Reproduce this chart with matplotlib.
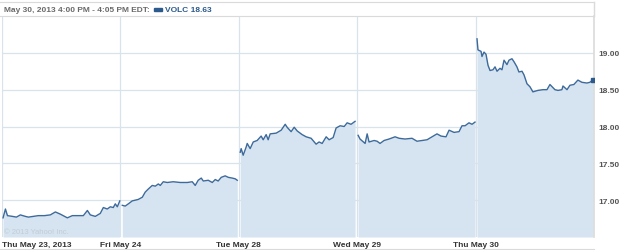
import matplotlib.pyplot as plt
from matplotlib.patches import Rectangle

# x position in trading days from the start of Thu May 23 (0..5), price in USD
thu23_t = [0.009, 0.029, 0.046, 0.088, 0.122, 0.155, 0.197, 0.223, 0.265, 0.307, 0.358, 0.408,
           0.451, 0.493, 0.552, 0.594, 0.645, 0.687, 0.721, 0.746, 0.788, 0.830, 0.856, 0.889,
           0.915, 0.940, 0.957, 0.974, 0.995]
thu23_p = [16.76, 16.88, 16.79, 16.78, 16.77, 16.80, 16.78, 16.77, 16.78, 16.79, 16.79, 16.80,
           16.84, 16.81, 16.76, 16.79, 16.79, 16.79, 16.86, 16.80, 16.78, 16.82, 16.90, 16.88,
           16.91, 16.90, 16.95, 16.91, 16.99]

fri24_t = [1.016, 1.041, 1.067, 1.100, 1.151, 1.185, 1.210, 1.235, 1.269, 1.295, 1.320, 1.337,
           1.362, 1.396, 1.446, 1.505, 1.565, 1.607, 1.632, 1.657, 1.683, 1.700, 1.742, 1.776,
           1.801, 1.826, 1.852, 1.885, 1.911, 1.944, 1.970, 1.987]
fri24_p = [16.93, 16.92, 16.95, 16.99, 17.01, 17.04, 17.11, 17.15, 17.20, 17.19, 17.22, 17.20,
           17.25, 17.24, 17.25, 17.24, 17.24, 17.25, 17.20, 17.27, 17.30, 17.26, 17.27, 17.24,
           17.28, 17.26, 17.31, 17.33, 17.31, 17.30, 17.29, 17.27]

tue28_t = [2.012, 2.020, 2.037, 2.062, 2.071, 2.096, 2.122, 2.155, 2.189, 2.206, 2.231, 2.248,
           2.265, 2.316, 2.358, 2.392, 2.408, 2.442, 2.468, 2.493, 2.535, 2.569, 2.611, 2.653,
           2.678, 2.704, 2.738, 2.763, 2.797, 2.822, 2.856, 2.890, 2.915, 2.948, 2.982]
tue28_p = [17.65, 17.70, 17.61, 17.72, 17.77, 17.70, 17.79, 17.81, 17.87, 17.82, 17.89, 17.82,
           17.90, 17.91, 17.95, 18.03, 17.99, 17.93, 17.99, 17.94, 17.89, 17.86, 17.84, 17.76,
           17.79, 17.77, 17.86, 17.82, 17.85, 17.98, 18.01, 18.00, 18.05, 18.03, 18.07]

wed29_t = [3.008, 3.024, 3.067, 3.084, 3.100, 3.143, 3.168, 3.193, 3.227, 3.269, 3.320, 3.354,
           3.404, 3.463, 3.505, 3.548, 3.590, 3.632, 3.674, 3.708, 3.750, 3.776, 3.818, 3.860,
           3.885, 3.911, 3.944, 3.970, 3.995]
wed29_p = [17.88, 17.83, 17.77, 17.90, 17.79, 17.81, 17.80, 17.77, 17.81, 17.83, 17.86, 17.84,
           17.83, 17.84, 17.80, 17.81, 17.82, 17.86, 17.90, 17.87, 17.86, 17.95, 17.92, 17.93,
           18.01, 18.01, 18.05, 18.03, 18.06]

thu30_t = [4.012, 4.020, 4.046, 4.054, 4.071, 4.088, 4.105, 4.122, 4.147, 4.164, 4.181, 4.206,
           4.223, 4.240, 4.265, 4.282, 4.307, 4.324, 4.349, 4.366, 4.392, 4.409, 4.434, 4.459,
           4.484, 4.527, 4.569, 4.603, 4.628, 4.670, 4.696, 4.729, 4.738, 4.772, 4.797, 4.830,
           4.864, 4.898, 4.940, 4.965, 4.990]
thu30_p = [19.19, 19.04, 19.02, 18.95, 19.01, 18.98, 18.83, 18.76, 18.77, 18.81, 18.75, 18.79,
           18.77, 18.90, 18.84, 18.90, 18.92, 18.88, 18.81, 18.74, 18.75, 18.70, 18.58, 18.54,
           18.47, 18.49, 18.50, 18.50, 18.57, 18.50, 18.49, 18.50, 18.55, 18.50, 18.56, 18.57,
           18.63, 18.60, 18.59, 18.60, 18.63]

day_ticks = [0, 1, 2, 3, 4]
day_labels = ['Thu May 23, 2013', 'Fri May 24', 'Tue May 28', 'Wed May 29', 'Thu May 30']
price_ticks = [17.0, 17.5, 18.0, 18.5, 19.0]

line_col = '#3d6a9b'
fill_col = '#d5e4f0'
grid_col = '#d9e3ec'
frame_col = '#dadada'
font = 'Liberation Sans'

fig = plt.figure(figsize=(6.25, 2.51), dpi=100)
ax = fig.add_axes([2 / 625, 13 / 251, 592 / 625, 221 / 251])

ax.set_xlim(0, 5)
ax.set_ylim(16.5, 19.5)
ax.set_xticks(day_ticks)
ax.set_xticklabels(day_labels)
ax.set_yticks(price_ticks)
ax.set_yticklabels(['%.2f' % v for v in price_ticks])
ax.yaxis.tick_right()
ax.tick_params(length=0, labelsize=6.0, labelcolor='#333333')
ax.tick_params(axis='x', pad=3)
ax.tick_params(axis='y', pad=3, labelcolor='#555555')
for lab in ax.get_xticklabels() + ax.get_yticklabels():
    lab.set_fontweight('bold')
    lab.set_family(font)
ax.get_xticklabels()[0].set_horizontalalignment('left')

ax.grid(True, color=grid_col, linewidth=0.9, zorder=0)
ax.set_axisbelow(True)
for side in ['top', 'left', 'bottom']:
    ax.spines[side].set_visible(False)
ax.spines['right'].set_color(frame_col)
ax.spines['right'].set_linewidth(1.2)

days = [(thu23_t, thu23_p), (fri24_t, fri24_p), (tue28_t, tue28_p),
        (wed29_t, wed29_p), (thu30_t, thu30_p)]
for t, p in days:
    ax.fill_between(t, p, 16.5, color=fill_col, linewidth=0, zorder=1)
    ax.plot(t, p, color=line_col, linewidth=1.0, zorder=3)
ax.plot(thu30_t[-1], thu30_p[-1], marker='s', markersize=3, color='#2c5a8c', zorder=4)

ax.text(0.02, 16.56, '\u00a9 2013 Yahoo! Inc.', fontsize=5.5, color='#c2ccd6', family=font, zorder=5)

# header strip
fig.text(4 / 625, 1 - 10 / 251, 'May 30, 2013 4:00 PM - 4:05 PM EDT:', fontsize=6.0,
         color='#6a6a6a', fontweight='bold', va='center', family=font)
fig.add_artist(Rectangle((154 / 625, 1 - 11.5 / 251), 8 / 625, 3 / 251,
                         transform=fig.transFigure, color='#2c5a8c'))
fig.text(165 / 625, 1 - 10 / 251, 'VOLC 18.63', fontsize=6.0, color='#2c5a8c',
         fontweight='bold', va='center', family=font)
fig.add_artist(plt.Line2D([0, 594 / 625], [1 - 3 / 251, 1 - 3 / 251], color=frame_col, linewidth=0.8))
fig.add_artist(plt.Line2D([0, 594 / 625], [1 - 17 / 251, 1 - 17 / 251], color=frame_col, linewidth=0.8))
fig.add_artist(plt.Line2D([594 / 625, 594 / 625], [1 - 17 / 251, 1 - 3 / 251], color=frame_col, linewidth=1.0))
fig.add_artist(plt.Line2D([0, 594 / 625], [1 - 250 / 251, 1 - 250 / 251], color=frame_col, linewidth=0.8))

fig.savefig('out.png', dpi=100)
